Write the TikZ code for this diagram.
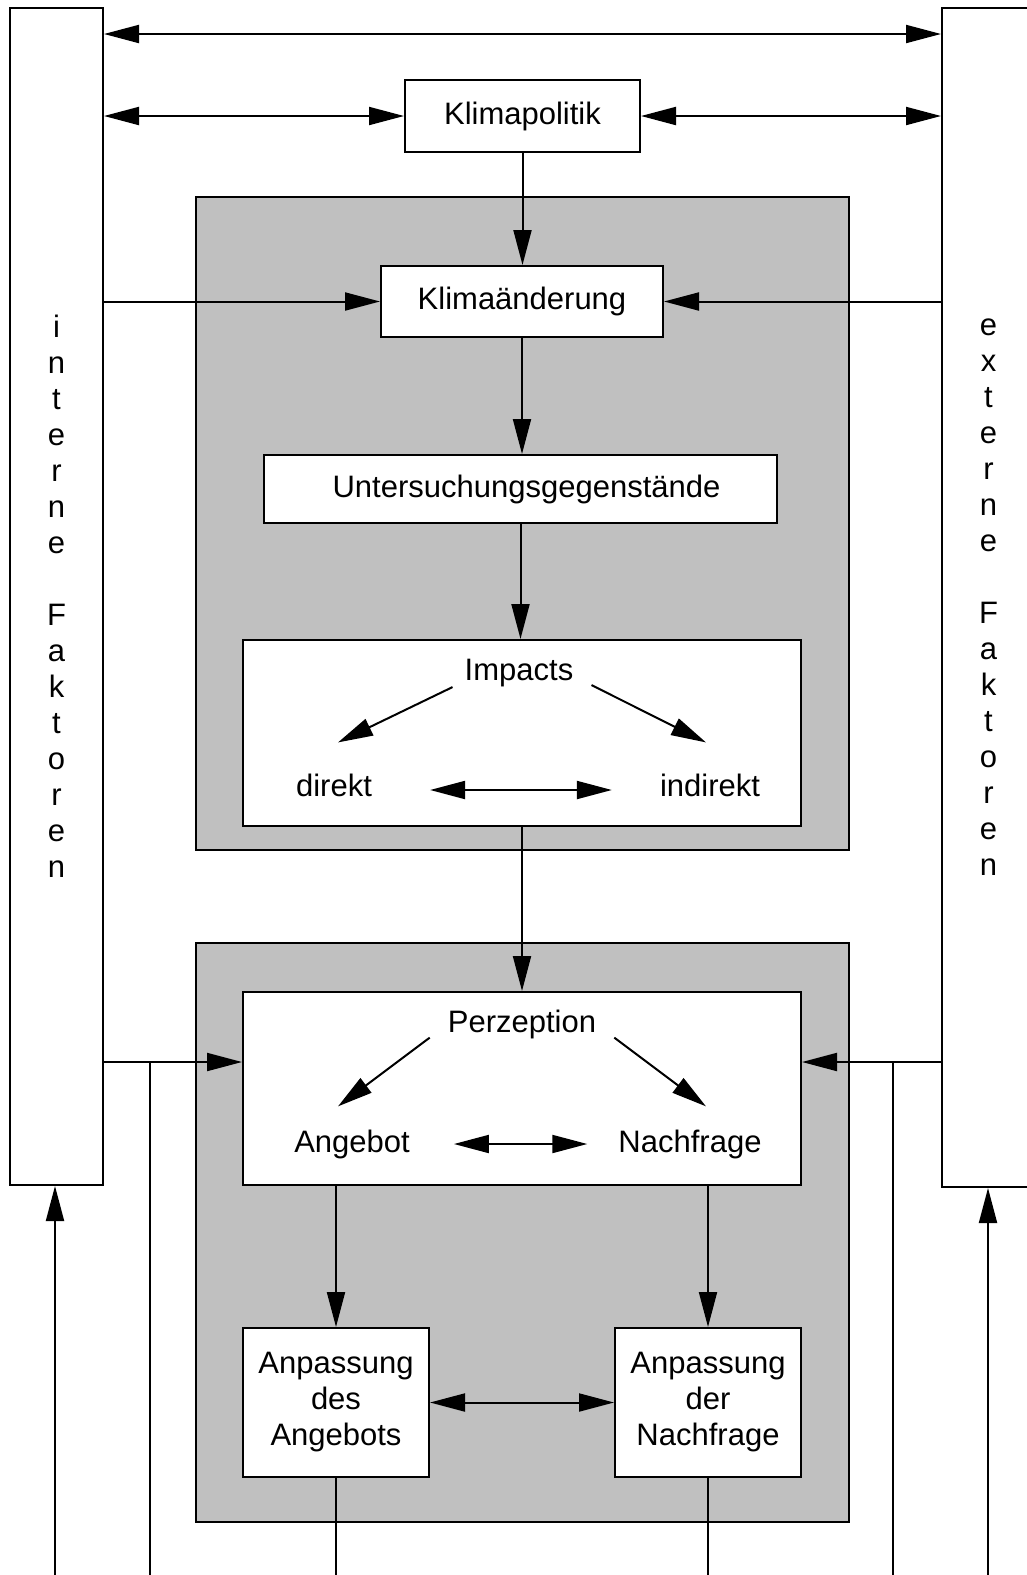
\documentclass[tikz,border=0pt]{standalone}
\usepackage{fontspec}
\setmainfont{Liberation Sans}
\usetikzlibrary{arrows.meta}
\definecolor{feldgrau}{RGB}{192,192,192}
\tikzset{
  kasten/.style={draw, line width=2pt, fill=white, inner sep=0pt, align=center},
  wort/.style={inner sep=0pt},
  pfeil/.style={-{Triangle[length=35pt,width=18pt]}, line width=2pt},
  dpfeil/.style={{Triangle[length=35pt,width=18pt]}-{Triangle[length=35pt,width=18pt]}, line width=2pt},
  linie/.style={line width=1.6pt}
}
% box from corner (x1,y1) to corner (x2,y2)
\newcommand{\feld}[7][]{\node[kasten, #1, minimum width={#5-#3}, minimum height={#6-#4}] (#2) at ({(#3+#5)/2},{(#4+#6)/2}) {#7};}
\begin{document}
\begin{tikzpicture}[x=1pt, y=-1pt, font=\fontsize{31}{36}\selectfont]
\useasboundingbox (0,0) rectangle (1027,1575);
% grey panels
\feld[fill=feldgrau]{oben}{196}{197}{849}{850}{}
\feld[fill=feldgrau]{unten}{196}{943}{849}{1522}{}
% side columns
\feld{intern}{10}{8}{103}{1185}{i\\n\\t\\e\\r\\n\\e\\[36pt]F\\a\\k\\t\\o\\r\\e\\n}
\feld{extern}{942}{8}{1035}{1187}{e\\x\\t\\e\\r\\n\\e\\[36pt]F\\a\\k\\t\\o\\r\\e\\n}
% upper chain
\feld{politik}{405}{80}{640}{152}{Klimapolitik}
\feld{aenderung}{381}{266}{663}{337}{Klimaänderung}
\feld{gegenst}{264}{455}{777}{523}{\hspace*{12pt}Untersuchungsgegenstände}
\feld{impactbox}{243}{640}{801}{826}{}
% lower chain
\feld{perzbox}{243}{992}{801}{1185}{}
\feld{anpA}{243}{1328}{429}{1477}{Anpassung\\des\\Angebots}
\feld{anpN}{615}{1328}{801}{1477}{Anpassung\\der\\Nachfrage}
% labels inside the boxes
\node[wort] (impacts) at (519,673) {Impacts};
\node[wort] (direkt) at (334,785) {direkt};
\node[wort] (indirekt) at (710,785) {indirekt};
\node[wort] (perzeption) at (522,1024) {Perzeption};
\node[wort] (angebot) at (352,1144) {Angebot};
\node[wort] (nachfrage) at (690,1144) {Nachfrage};
% free ends at the lower border
\coordinate (endeA) at (55,1575);
\coordinate (endeB) at (150,1575);
\coordinate (endeC) at (336,1575);
\coordinate (endeD) at (708,1575);
\coordinate (endeE) at (893,1575);
\coordinate (endeF) at (988,1575);
% top connectors
\draw[dpfeil] (intern.east |- 0,34) -- (extern.west |- 0,34);
\draw[dpfeil] (intern.east |- politik.west) -- (politik.west);
\draw[dpfeil] (politik.east) -- (extern.west |- politik.east);
\draw[pfeil] (politik.south) -- (politik.south |- aenderung.north);
\draw[pfeil] (intern.east |- aenderung.west) -- (aenderung.west);
\draw[pfeil] (extern.west |- aenderung.east) -- (aenderung.east);
\draw[pfeil] (aenderung.south) -- (aenderung.south |- gegenst.north);
\draw[pfeil] (gegenst.south) -- (gegenst.south |- impactbox.north);
% impacts
\draw[pfeil] ([xshift=-12pt]impacts.south west) -- ([xshift=4pt,yshift=31pt]direkt.north);
\draw[pfeil] ([xshift=18pt,yshift=2pt]impacts.south east) -- ([xshift=-4pt,yshift=31pt]indirekt.north);
\draw[dpfeil] ([xshift=58pt,yshift=-5pt]direkt.east) -- ([xshift=-48pt,yshift=-5pt]indirekt.west);
\draw[pfeil] (impactbox.south) -- (impactbox.south |- perzbox.north);
% perzeption
\draw[pfeil] ([xshift=-18pt,yshift=1pt]perzeption.south west) -- ([xshift=-14pt,yshift=23pt]angebot.north);
\draw[pfeil] ([xshift=18pt,yshift=1pt]perzeption.south east) -- ([xshift=16pt,yshift=23pt]nachfrage.north);
\draw[dpfeil] ([xshift=44pt]angebot.east) -- ([xshift=-31pt]nachfrage.west);
\draw[pfeil] (intern.east |- 0,1062) -- (perzbox.west |- 0,1062);
\draw[pfeil] (extern.west |- 0,1062) -- (perzbox.east |- 0,1062);
\draw[linie] (endeB) -- (endeB |- 0,1062);
\draw[linie] (endeE) -- (endeE |- 0,1062);
% adaptation
\draw[pfeil] (anpA.north |- perzbox.south) -- (anpA.north);
\draw[pfeil] (anpN.north |- perzbox.south) -- (anpN.north);
\draw[dpfeil] (anpA.east) -- (anpN.west);
\draw[linie] (anpA.south) -- (endeC);
\draw[linie] (anpN.south) -- (endeD);
% feedback into the side columns
\draw[pfeil] (endeA) -- (endeA |- intern.south);
\draw[pfeil] (endeF) -- (endeF |- extern.south);
\end{tikzpicture}
\end{document}
